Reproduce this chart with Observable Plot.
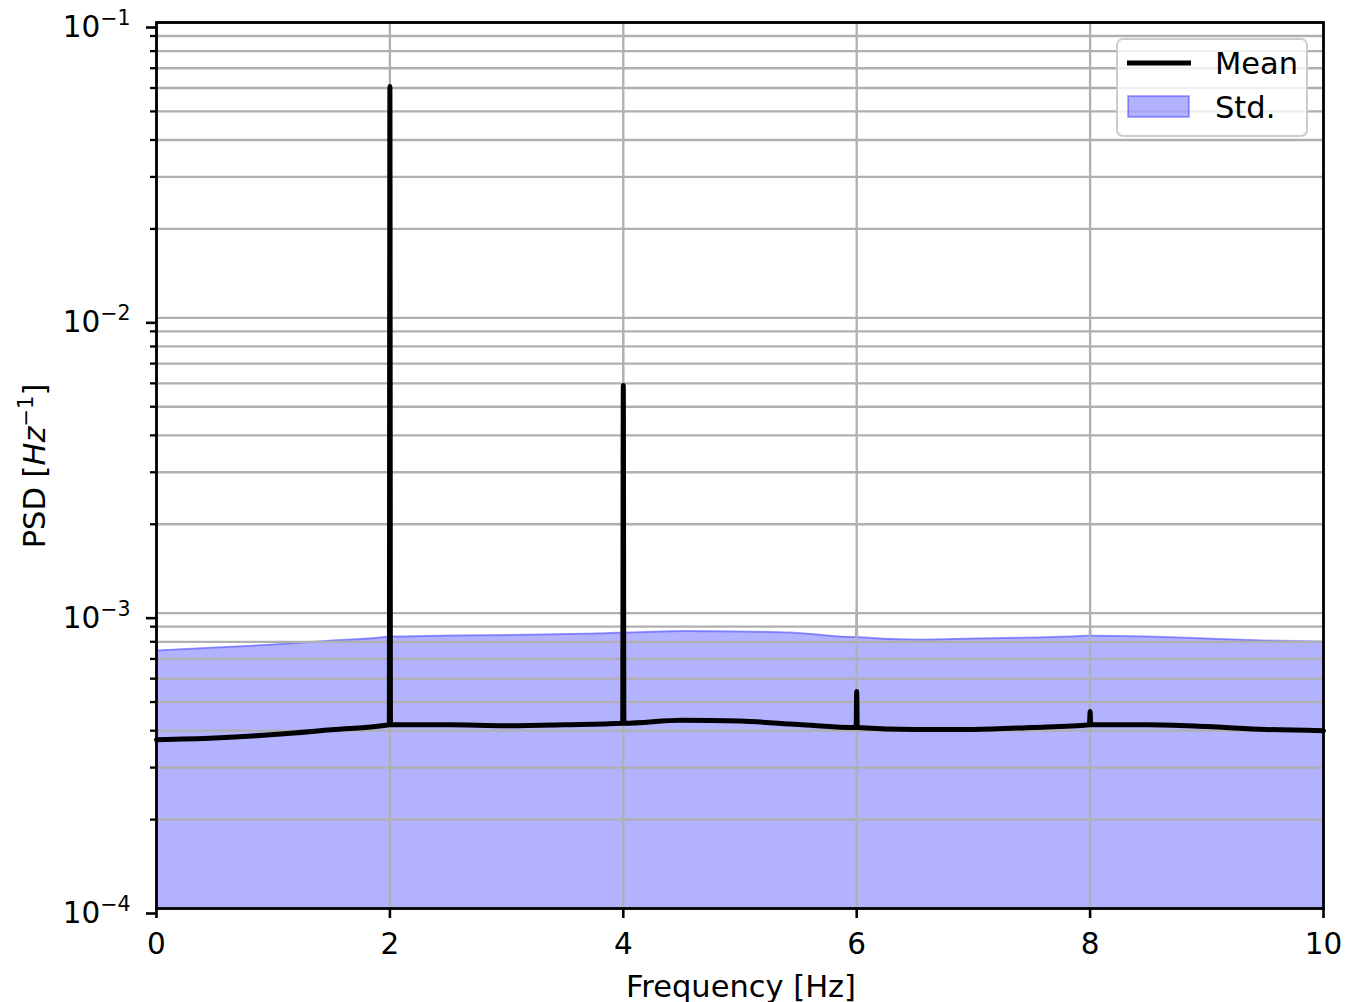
<!DOCTYPE html>
<html>
<head>
<meta charset="utf-8">
<script src="https://cdn.jsdelivr.net/npm/d3@7"></script>
<script src="https://cdn.jsdelivr.net/npm/@observablehq/plot@0.6"></script>
<style>
  html, body { margin: 0; padding: 0; background: white; }
  #chart { width: 1348px; height: 1002px; }
</style>
</head>
<body>
<div id="chart"></div>
<script>
// ---- data ----
const freq = [0, 0.5, 1, 1.5, 1.995, 2, 2.005, 2.5, 3, 3.5, 3.995, 4, 4.005, 4.5, 5, 5.5, 5.995, 6, 6.005, 6.5, 7, 7.5, 7.995, 8, 8.005, 8.5, 9, 9.5, 10];
const meanPSD = [3.73e-4, 3.78e-4, 3.88e-4, 4.03e-4, 4.19e-4, 0.0607, 4.19e-4, 4.19e-4, 4.16e-4, 4.19e-4, 4.24e-4, 5.9e-3, 4.24e-4, 4.34e-4, 4.31e-4, 4.2e-4, 4.1e-4, 5.43e-4, 4.1e-4, 4.04e-4, 4.04e-4, 4.1e-4, 4.19e-4, 4.65e-4, 4.19e-4, 4.19e-4, 4.13e-4, 4.04e-4, 4.0e-4];
const stdUpper = [7.47e-4, 7.65e-4, 7.83e-4, 8.08e-4, 8.34e-4, 0.073, 8.34e-4, 8.4e-4, 8.44e-4, 8.5e-4, 8.6e-4, 8.9e-3, 8.6e-4, 8.7e-4, 8.67e-4, 8.57e-4, 8.3e-4, 1.08e-3, 8.3e-4, 8.14e-4, 8.21e-4, 8.27e-4, 8.4e-4, 9.3e-4, 8.4e-4, 8.34e-4, 8.21e-4, 8.08e-4, 8.02e-4];
const xTicks = [0, 2, 4, 6, 8, 10];
const yMajor = [1e-4, 1e-3, 1e-2, 1e-1];
const yMinor = [];
for (const k of [-4, -3, -2]) for (let m = 2; m <= 9; m++) yMinor.push(m * Math.pow(10, k));
const yGrid = yMajor.concat(yMinor);
const legendLabels = ["Mean", "Std."];

const rows = freq.map((f, i) => ({f, mean: meanPSD[i], std: stdUpper[i]}));

const FONT = "DejaVu Sans";
const LABEL_SIZE = 30.5;
const chart = Plot.plot({
  width: 1348,
  height: 1002,
  marginLeft: 156,
  marginRight: 25,
  marginTop: 22,
  marginBottom: 94,
  style: {fontFamily: FONT, fontSize: "29.5px", background: "white", color: "black", overflow: "visible"},
  x: {domain: [0, 10]},
  y: {type: "log", domain: [1e-4, 1e-1]},
  marks: [
    Plot.areaY(rows, {x: "f", y1: 1e-4, y2: "std", fill: "blue", fillOpacity: 0.3, curve: "monotone-x"}),
    Plot.lineY(rows, {x: "f", y: "std", stroke: "blue", strokeOpacity: 0.3, strokeWidth: 2, curve: "monotone-x"}),
    Plot.ruleY(yGrid, {stroke: "#b0b0b0", strokeWidth: 2.3}),
    Plot.ruleX(xTicks, {stroke: "#b0b0b0", strokeWidth: 2.3}),
    Plot.lineY(rows, {x: "f", y: "mean", stroke: "black", strokeWidth: 5, strokeLinejoin: "round", curve: "monotone-x"}),
    Plot.axisX({ticks: xTicks, tickSize: 10, tickPadding: 15, strokeWidth: 2.6, label: null, tickFormat: d => String(d)}),
    Plot.axisY({ticks: yMajor, tickSize: 10, tickPadding: 16, strokeWidth: 2.6, label: null, dy: 5,
      tickFormat: d => "10^" + Math.round(Math.log10(d))}),
    Plot.axisY({ticks: yMinor, tickSize: 6, strokeWidth: 2.3, label: null, tickFormat: () => ""}),
    Plot.frame({stroke: "black", strokeWidth: 2.8})
  ]
});
document.getElementById("chart").appendChild(chart);

const svg = d3.select(chart);

// superscript exponents on y tick labels
svg.selectAll('g[aria-label="y-axis tick label"] text').each(function() {
  const t = this.textContent;
  if (!t.includes("^")) return;
  const exp = t.split("^")[1].replace("-", "\u2212");
  const el = d3.select(this);
  el.text(null);
  el.append("tspan").text("10");
  el.append("tspan").attr("dy", "-12").attr("font-size", "20.5px").text(exp);
});

// axis labels
svg.append("text")
  .attr("x", 741).attr("y", 997)
  .attr("text-anchor", "middle")
  .attr("font-family", FONT).attr("font-size", LABEL_SIZE).attr("fill", "black")
  .text("Frequency [Hz]");

const yl = svg.append("text")
  .attr("transform", "translate(45,466) rotate(-90)")
  .attr("text-anchor", "middle")
  .attr("font-family", FONT).attr("font-size", LABEL_SIZE).attr("fill", "black");
yl.append("tspan").text("PSD [");
yl.append("tspan").attr("font-style", "italic").text("Hz");
yl.append("tspan").attr("dy", -12).attr("font-size", 21).text("\u22121");
yl.append("tspan").attr("dy", 12).text("]");

// legend
const lg = svg.append("g");
lg.append("rect").attr("x", 1117).attr("y", 39).attr("width", 190).attr("height", 97)
  .attr("rx", 6).attr("fill", "white").attr("fill-opacity", 0.8)
  .attr("stroke", "#cccccc").attr("stroke-width", 2);
lg.append("line").attr("x1", 1127).attr("x2", 1191).attr("y1", 63).attr("y2", 63)
  .attr("stroke", "black").attr("stroke-width", 5);
lg.append("rect").attr("x", 1128).attr("y", 96).attr("width", 61).attr("height", 21)
  .attr("fill", "blue").attr("fill-opacity", 0.3)
  .attr("stroke", "blue").attr("stroke-opacity", 0.3).attr("stroke-width", 2);
lg.selectAll("text.lab").data(legendLabels).join("text")
  .attr("class", "lab")
  .attr("x", 1215).attr("y", (d, i) => i === 0 ? 74 : 118)
  .attr("text-anchor", "start")
  .attr("font-family", FONT).attr("font-size", LABEL_SIZE).attr("fill", "black")
  .text(d => d);
</script>
</body>
</html>
